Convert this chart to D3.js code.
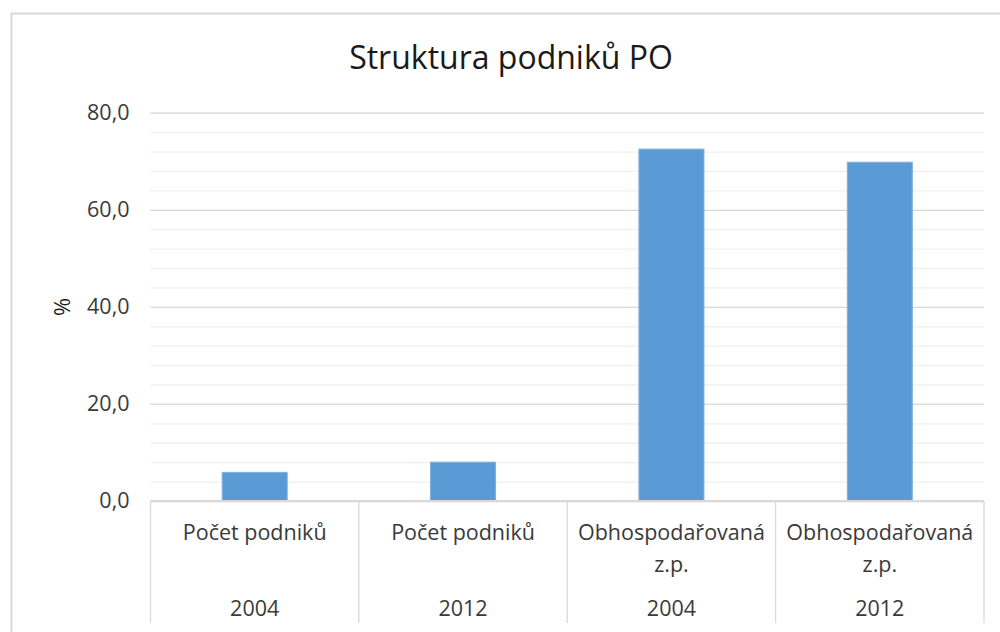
<!DOCTYPE html>
<html>
<head>
<meta charset="utf-8">
<script src="https://cdn.jsdelivr.net/npm/d3@7"></script>
<style>
  html, body { margin: 0; padding: 0; background: #fff; overflow: hidden; }
  svg { display: block; font-family: "Open Sans", sans-serif; }
</style>
</head>
<body>
<div id="chart"></div>
<script>
// chart data
const title = "Struktura podniků PO";
const yLabel = "%";
const categories = ["Počet podniků", "Počet podniků", "Obhospodařovaná\nz.p.", "Obhospodařovaná\nz.p."];
const years = ["2004", "2012", "2004", "2012"];
const values = [5.9, 8.0, 72.5, 69.8];
const yTicks = [0, 20, 40, 60, 80];
const yMinorTicks = d3.range(0, 81, 4);

const width = 1000, height = 632;
const margin = { top: 112.7, right: 16, bottom: 131, left: 150.5 };

const svg = d3.select("#chart").append("svg")
  .attr("width", width)
  .attr("height", height);

// chart frame (runs past the right and bottom edge)
svg.append("rect")
  .attr("x", 11.5).attr("y", 13.5)
  .attr("width", 1000).attr("height", 700)
  .attr("fill", "#fff")
  .attr("stroke", "#d9d9d9")
  .attr("stroke-width", 2);

const x = d3.scaleBand()
  .domain(d3.range(values.length))
  .range([margin.left, width - margin.right])
  .padding(0);

const y = d3.scaleLinear()
  .domain([0, 80])
  .range([height - margin.bottom, margin.top]);

const plotW = x.range()[1] - x.range()[0];

// minor gridlines
svg.append("g")
  .attr("transform", `translate(${margin.left},0)`)
  .call(d3.axisLeft(y).tickValues(yMinorTicks).tickSize(-plotW).tickFormat(""))
  .call(g => g.select(".domain").remove())
  .call(g => g.selectAll("line").attr("stroke", "#f0f0f0").attr("stroke-width", 1.3));

// major gridlines + labels
svg.append("g")
  .attr("transform", `translate(${margin.left},0)`)
  .call(d3.axisLeft(y).tickValues(yTicks).tickSize(-plotW)
    .tickFormat(d => d.toFixed(1).replace(".", ",")).tickPadding(21))
  .call(g => g.select(".domain").remove())
  .call(g => g.selectAll("line").attr("stroke", "#d9d9d9").attr("stroke-width", 1.3))
  .call(g => g.selectAll("text")
    .attr("fill", "#3a3a3a")
    .attr("font-size", 21.5)
    .attr("font-family", "'Open Sans', sans-serif"));

// bars
const barW = x.bandwidth() * 0.312;
svg.append("g")
  .selectAll("rect")
  .data(values)
  .join("rect")
  .attr("x", (d, i) => x(i) + (x.bandwidth() - barW) / 2)
  .attr("width", barW)
  .attr("y", d => y(d))
  .attr("height", d => y(0) - y(d))
  .attr("fill", "#5b9bd5")
  .attr("stroke", "#7eb0e0")
  .attr("stroke-width", 1);

// category axis
const axisY = y(0);
const catAxis = svg.append("g");
catAxis.append("line")
  .attr("x1", x.range()[0]).attr("x2", x.range()[1])
  .attr("y1", axisY).attr("y2", axisY)
  .attr("stroke", "#d9d9d9").attr("stroke-width", 2);

const edges = d3.range(values.length + 1).map(i => i < values.length ? x(i) : x.range()[1]);
catAxis.selectAll("line.sep")
  .data(edges)
  .join("line")
  .attr("class", "sep")
  .attr("x1", d => d).attr("x2", d => d)
  .attr("y1", axisY).attr("y2", 623)
  .attr("stroke", "#d9d9d9").attr("stroke-width", 1.3);

const catLabels = catAxis.selectAll("text.cat")
  .data(categories)
  .join("text")
  .attr("class", "cat")
  .attr("x", (d, i) => x(i) + x.bandwidth() / 2)
  .attr("y", 540)
  .attr("text-anchor", "middle")
  .attr("font-size", 21.5)
  .attr("fill", "#3a3a3a");
catLabels.each(function(d) {
  const t = d3.select(this);
  d.split("\n").forEach((line, k) => {
    t.append("tspan")
      .attr("x", t.attr("x"))
      .attr("dy", k === 0 ? 0 : 32)
      .text(line);
  });
});

catAxis.selectAll("text.year")
  .data(years)
  .join("text")
  .attr("class", "year")
  .attr("x", (d, i) => x(i) + x.bandwidth() / 2)
  .attr("y", 616)
  .attr("text-anchor", "middle")
  .attr("font-size", 21.5)
  .attr("fill", "#3a3a3a")
  .text(d => d);

// title
svg.append("text")
  .attr("x", 511)
  .attr("y", 69)
  .attr("text-anchor", "middle")
  .attr("font-size", 32)
  .attr("fill", "#1a1a1a")
  .text(title);

// y axis label
svg.append("text")
  .attr("transform", `translate(70,${(y(40))}) rotate(-90)`)
  .attr("text-anchor", "middle")
  .attr("font-size", 22)
  .attr("fill", "#1a1a1a")
  .text(yLabel);
</script>
</body>
</html>
